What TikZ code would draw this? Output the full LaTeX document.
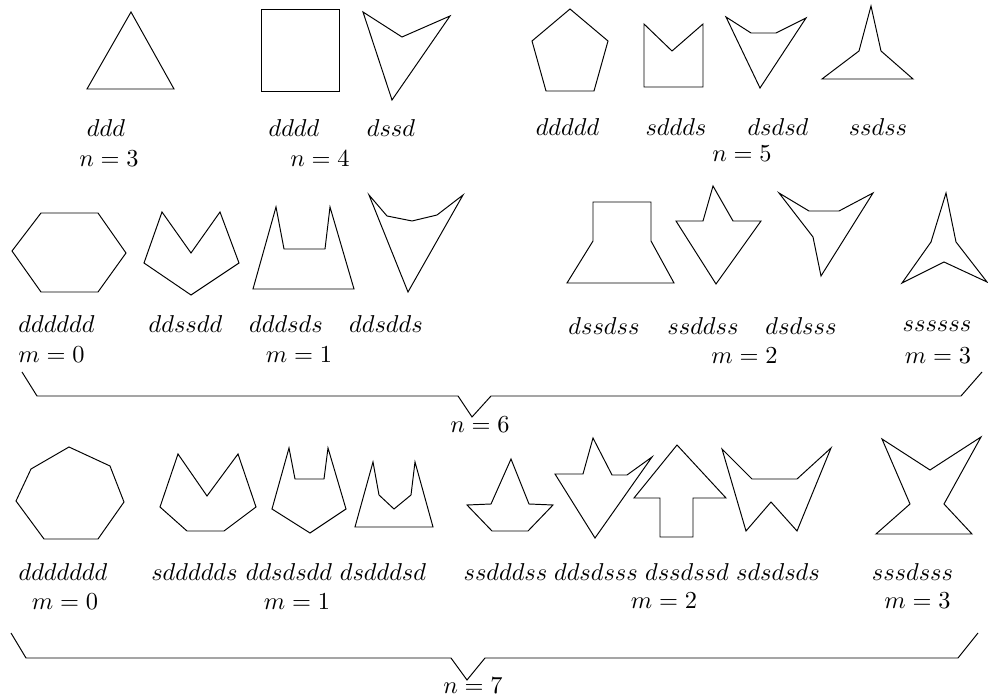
\documentclass[tikz,border=0pt]{standalone}
\begin{document}
\begin{tikzpicture}[x=0.41pt,y=-0.41pt,
  poly/.style={draw,line width=0.4pt,line join=miter},
  lab/.style={inner sep=0pt,outer sep=0pt},
  brace/.style={draw,line width=0.4pt}]
\useasboundingbox (0,0) rectangle (988,698);
% ---------- row 1 (n = 3, 4, 5)
\draw[poly] (131,12) -- (174,89) -- (87,89) -- cycle;
\draw[poly] (261,9) rectangle (339,91);
\draw[poly] (363,12) -- (402,37) -- (450,16) -- (392,100) -- cycle;
\draw[poly] (570,9) -- (608,41) -- (594,91) -- (546,91) -- (532,41) -- cycle;
\draw[poly] (644,24) -- (672,51) -- (703,24) -- (703,87) -- (644,87) -- cycle;
\draw[poly] (726,17) -- (751,33) -- (776,33) -- (806,18) -- (760,88) -- cycle;
\draw[poly] (871,6) -- (881,51) -- (913,79) -- (822,79) -- (859,51) -- cycle;
\node[lab] (l3a) at (106,128.5) {$ddd$};
\node[lab] (n3) at (109,159) {$n=3$};
\node[lab] (l4a) at (294,128.5) {$dddd$};
\node[lab] (l4b) at (391,128.5) {$dssd$};
\node[lab] (n4) at (320,159) {$n=4$};
\node[lab] (l5a) at (567.5,127) {$ddddd$};
\node[lab] (l5b) at (676,127) {$sddds$};
\node[lab] (l5c) at (778,127) {$dsdsd$};
\node[lab] (l5d) at (878,127) {$ssdss$};
\node[lab] (n5) at (742,154) {$n=5$};
% ---------- row 2 (n = 6)
\draw[poly] (41,213) -- (98,213) -- (126,253) -- (98,292) -- (41,292) -- (12,251) -- cycle;
\draw[poly] (162,212) -- (191,253) -- (220,212) -- (239,263) -- (191,295) -- (144,263) -- cycle;
\draw[poly] (276,207) -- (284,249) -- (325,249) -- (330,207) -- (354,289) -- (253,289) -- cycle;
\draw[poly] (369,195) -- (387,216) -- (412,221) -- (437,215) -- (463,195) -- (408,292) -- cycle;
\draw[poly] (593,202) -- (651,202) -- (651,241) -- (674,283) -- (567,283) -- (593,241) -- cycle;
\draw[poly] (676,221) -- (703,221) -- (713,186) -- (733,221) -- (761,221) -- (716,284) -- cycle;
\draw[poly] (779,193) -- (809,211) -- (839,211) -- (873,193) -- (821,276) -- (813,237) -- cycle;
\draw[poly] (946,193) -- (956,242) -- (987,282) -- (944,262) -- (902,283) -- (931,242) -- cycle;
\node[lab] (l6a) at (56.5,324) {$dddddd$};
\node[lab] (m60) at (51.5,355) {$m=0$};
\node[lab] (l6b) at (185.5,324) {$ddssdd$};
\node[lab] (l6c) at (286,324) {$dddsds$};
\node[lab] (l6d) at (386,324) {$ddsdds$};
\node[lab] (m61) at (299,355) {$m=1$};
\node[lab] (l6e) at (604,326) {$dssdss$};
\node[lab] (l6f) at (703,326) {$ssddss$};
\node[lab] (l6g) at (801,326) {$dsdsss$};
\node[lab] (l6h) at (937,326) {$ssssss$};
\node[lab] (m62) at (744.5,356) {$m=2$};
\node[lab] (m63) at (938,356) {$m=3$};
% brace n = 6
\coordinate (b6a) at (22,372);
\coordinate (b6b) at (37,396);
\coordinate (b6c) at (458,396);
\coordinate (b6d) at (472,417);
\coordinate (b6e) at (491,396);
\coordinate (b6f) at (961,396);
\coordinate (b6g) at (982,372);
\draw[brace] (b6a) -- (b6b) -- (b6c) -- (b6d) -- (b6e) -- (b6f) -- (b6g);
\node[lab] (n6) at (480,425) {$n=6$};
% ---------- row 3 (n = 7)
\draw[poly] (69,447) -- (110,466) -- (124,502) -- (98,539) -- (44,539) -- (16,501) -- (31,469) -- cycle;
\draw[poly] (178,454) -- (207,496) -- (238,454) -- (256,507) -- (224,531) -- (187,531) -- (160,507) -- cycle;
\draw[poly] (289,448) -- (295,479) -- (324,479) -- (328,448) -- (346,509) -- (310,533) -- (272,509) -- cycle;
\draw[poly] (373,462) -- (379,495) -- (394,509) -- (411,495) -- (415,462) -- (433,527) -- (355,527) -- cycle;
\draw[poly] (511,459) -- (529,504) -- (553,505) -- (528,531) -- (492,531) -- (467,505) -- (491,504) -- cycle;
\draw[poly] (555,474) -- (583,474) -- (593,438) -- (612,475) -- (627,475) -- (652,457) -- (595,538) -- cycle;
\draw[poly] (677,445) -- (726,498) -- (693,498) -- (693,537) -- (660,537) -- (660,498) -- (634,498) -- cycle;
\draw[poly] (722,449) -- (752,479) -- (797,479) -- (831,448) -- (797,531) -- (771,502) -- (746,531) -- cycle;
\draw[poly] (882,439) -- (930,470) -- (981,437) -- (944,504) -- (972,534) -- (876,534) -- (910,504) -- cycle;
\node[lab] (l7a) at (63,572) {$ddddddd$};
\node[lab] (m70) at (65,602) {$m=0$};
\node[lab] (l7b) at (194.5,572) {$sddddds$};
\node[lab] (l7c) at (289,572) {$ddsdsdd$};
\node[lab] (l7d) at (383,572) {$dsdddsd$};
\node[lab] (m71) at (297,602) {$m=1$};
\node[lab] (l7e) at (505.5,572) {$ssdddss$};
\node[lab] (l7f) at (596,572) {$ddsdsss$};
\node[lab] (l7g) at (687,572) {$dssdssd$};
\node[lab] (l7h) at (778,572) {$sdsdsds$};
\node[lab] (l7i) at (912.5,572) {$sssdsss$};
\node[lab] (m72) at (664,601) {$m=2$};
\node[lab] (m73) at (917.5,601) {$m=3$};
% brace n = 7
\coordinate (b7a) at (11,633);
\coordinate (b7b) at (26,658);
\coordinate (b7c) at (451,658);
\coordinate (b7d) at (467,680);
\coordinate (b7e) at (485,658);
\coordinate (b7f) at (958,658);
\coordinate (b7g) at (978,633);
\draw[brace] (b7a) -- (b7b) -- (b7c) -- (b7d) -- (b7e) -- (b7f) -- (b7g);
\node[lab] (n7) at (473,686) {$n=7$};
\end{tikzpicture}
\end{document}
